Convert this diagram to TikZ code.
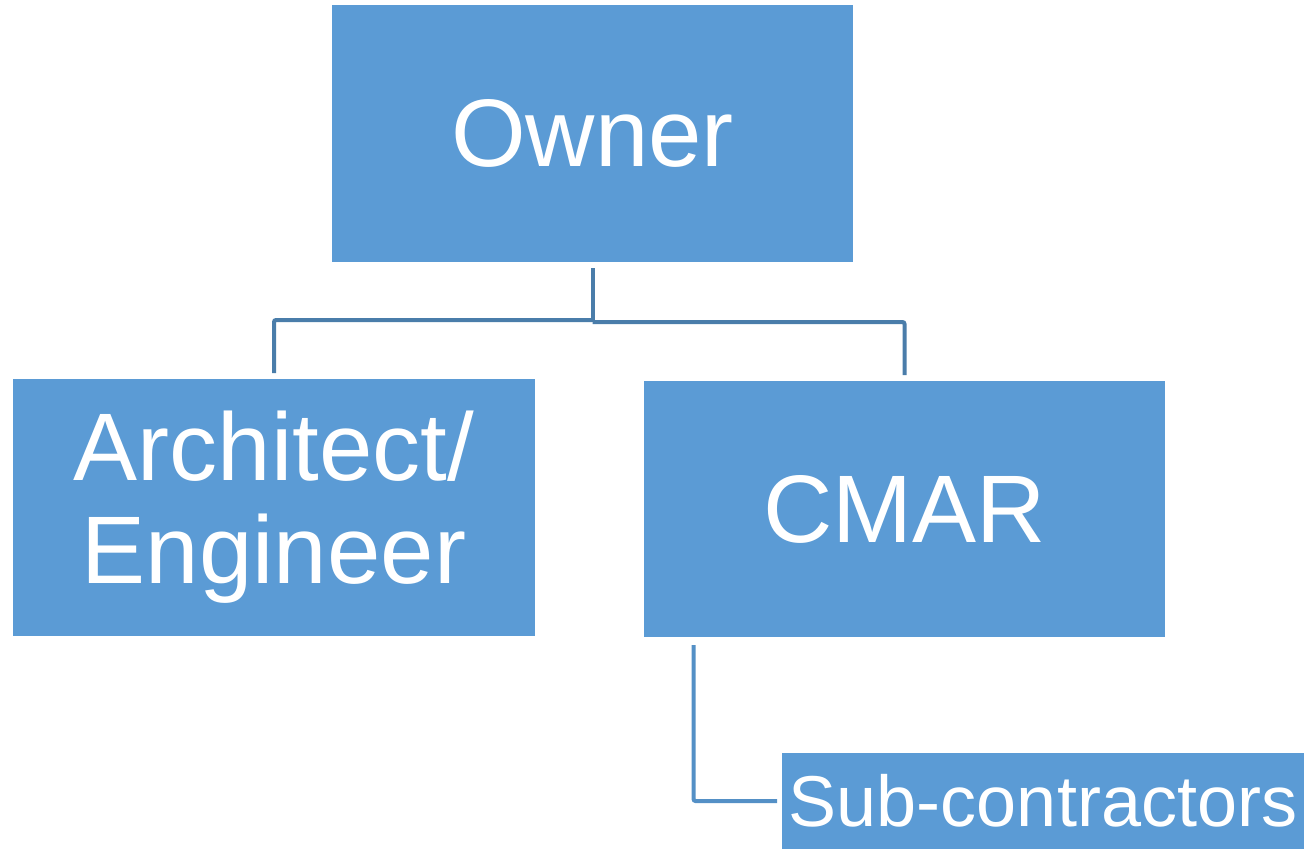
\documentclass[tikz,border=0pt]{standalone}
\usepackage{fontspec}
\setmainfont{Liberation Sans}
\usetikzlibrary{calc,positioning}
\definecolor{boxblue}{HTML}{5B9BD5}
\definecolor{treeblue}{HTML}{4A7DAA}
\definecolor{subblue}{HTML}{5490C6}
\begin{document}
\begin{tikzpicture}[x=1pt,y=-1pt]

    \tikzstyle{party}=[fill=boxblue,draw=none,outer sep=0pt,text=white,align=center,minimum width=521pt,minimum height=257pt,font=\fontsize{96}{103}\selectfont]
     \tikzstyle{tree}=[draw=treeblue,line width=4pt,rounded corners=2pt]
      \useasboundingbox (0,0) rectangle (1304,849);
      \clip (0,0) rectangle (1304,849);

\node (Owner) [party] at (592.5,133.5) {Owner};
\node (Arch) [party,minimum width=522pt] at (274,507.5) {Architect/\\Engineer};
\node (CMAR) [party,minimum height=256pt] at (904.5,509) {CMAR};
\node (Sub) [party,minimum width=522pt,minimum height=96pt,font=\fontsize{72}{78}\selectfont] at (1043,801) {Sub-contractors};

\draw[tree] ([yshift=-6pt]Owner.south) -- ++(0,-54pt) coordinate (fork);
\draw[tree] ([yshift=2pt]fork) -| ([yshift=6pt]Arch.north);
\draw[tree] (fork) -| ([yshift=6pt]CMAR.north);

\draw[tree,draw=subblue] ([xshift=-211pt,yshift=-8pt]CMAR.south) |- ([xshift=-5pt]Sub.west);

\end{tikzpicture}
\end{document}
